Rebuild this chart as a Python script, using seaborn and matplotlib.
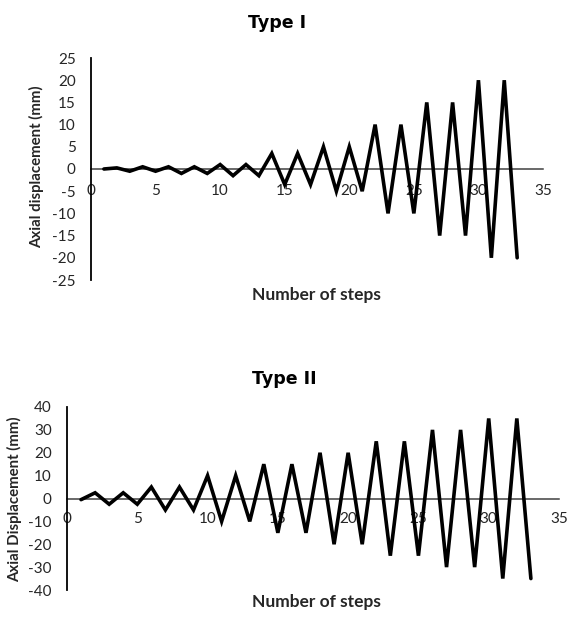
import matplotlib
matplotlib.use("Agg")
import matplotlib.pyplot as plt
import seaborn as sns
import pandas as pd

# Loading protocols: axial displacement (mm) at each step
steps = list(range(1, 34))
type1_disp = [0, 0.25, -0.5, 0.5, -0.5, 0.5, -1, 0.5, -1, 1, -1.5, 1, -1.5,
              3.5, -3.5, 3.5, -3.5, 5, -5, 5, -5, 10, -10, 10, -10,
              15, -15, 15, -15, 20, -20, 20, -20]
type2_disp = [-0.5, 2.5, -2.5, 2.5, -2.5, 5, -5, 5, -5, 10, -10, 10, -10,
              15, -15, 15, -15, 20, -20, 20, -20, 25, -25, 25, -25,
              30, -30, 30, -30, 35, -35, 35, -35]

x_ticks = [0, 5, 10, 15, 20, 25, 30, 35]
y1_ticks = list(range(-25, 30, 5))
y2_ticks = list(range(-40, 50, 10))

sns.set_theme(style="white")
plt.rcParams["font.family"] = ["Lato", "DejaVu Sans"]

W, H = 568, 617
fig = plt.figure(figsize=(W / 100, H / 100), dpi=100)
ax1 = fig.add_axes([91 / W, 1 - 280 / H, (543 - 91) / W, (280 - 58) / H])
ax2 = fig.add_axes([67 / W, 1 - 590 / H, (559 - 67) / W, (590 - 407) / H])

text_color = "#262626"


def draw(ax, disp, yticks, title, title_xy, xpad):
    df = pd.DataFrame({"step": steps, "disp": disp})
    sns.lineplot(data=df, x="step", y="disp", ax=ax, color="black",
                 linewidth=2.6, solid_joinstyle="miter")
    ax.set_xlim(0, 35)
    ax.set_ylim(yticks[0], yticks[-1])
    ax.set_xticks(x_ticks)
    ax.set_yticks(yticks)
    ax.set_xticklabels([str(t) for t in x_ticks])
    ax.set_yticklabels([str(t) for t in yticks])
    for s in ("top", "right"):
        ax.spines[s].set_visible(False)
    ax.spines["left"].set_position(("data", 0))
    ax.spines["left"].set_color("black")
    ax.spines["left"].set_linewidth(1.3)
    ax.spines["bottom"].set_position(("data", 0))
    ax.spines["bottom"].set_color("#404040")
    ax.spines["bottom"].set_linewidth(1.1)
    ax.spines["bottom"].set_zorder(1)
    ax.tick_params(axis="both", length=0, labelsize=11, colors=text_color)
    ax.tick_params(axis="y", pad=11)
    ax.tick_params(axis="x", pad=xpad)
    ax.set_xlabel("")
    ax.set_ylabel("")
    ax.patch.set_alpha(0)
    fig.text(title_xy[0] / W, 1 - title_xy[1] / H, title,
             ha="center", va="center", fontsize=12.5, fontweight="bold",
             family="DejaVu Sans", color="black")


draw(ax1, type1_disp, y1_ticks, "Type I", (277, 23), 11)
draw(ax2, type2_disp, y2_ticks, "Type II", (284, 379), 9.5)

fig.text(37 / W, 1 - 167 / H, "Axial displacement (mm)", rotation=90,
         ha="center", va="center", fontsize=10.8, fontweight="bold", color=text_color)
fig.text(15 / W, 1 - 499 / H, "Axial Displacement (mm)", rotation=90,
         ha="center", va="center", fontsize=10.8, fontweight="bold", color=text_color)
fig.text(316 / W, 1 - 295 / H, "Number of steps",
         ha="center", va="center", fontsize=12.5, fontweight="bold", color=text_color)
fig.text(316 / W, 1 - 602 / H, "Number of steps",
         ha="center", va="center", fontsize=12.5, fontweight="bold", color=text_color)

fig.savefig("out.png", dpi=100, facecolor="white")
